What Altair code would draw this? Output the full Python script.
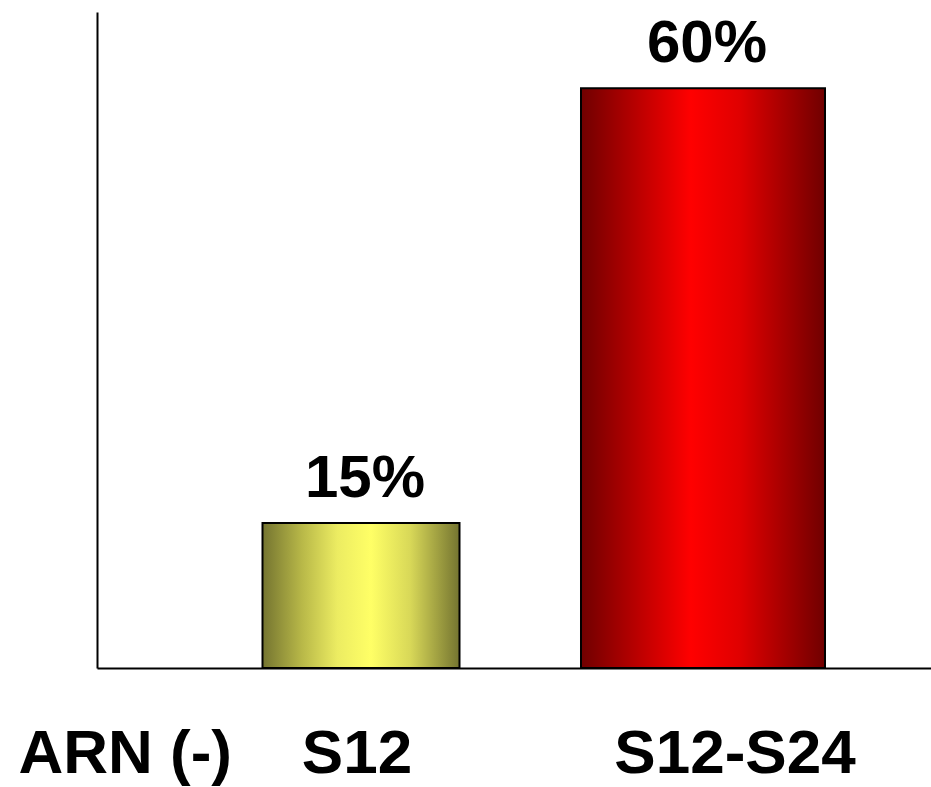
import altair as alt
import pandas as pd

categories = ["S12", "S12-S24"]
values = [15, 60]
x_title = "ARN (-)"

df = pd.DataFrame({"cat": categories, "val": values})

yellow = alt.Gradient(
    gradient="linear", x1=0, x2=1, y1=0, y2=0,
    stops=[
        alt.GradientStop(color="#747430", offset=0),
        alt.GradientStop(color="#b8b848", offset=0.2),
        alt.GradientStop(color="#ecec62", offset=0.38),
        alt.GradientStop(color="#ffff66", offset=0.55),
        alt.GradientStop(color="#d8d858", offset=0.75),
        alt.GradientStop(color="#747430", offset=1),
    ],
)
red = alt.Gradient(
    gradient="linear", x1=0, x2=1, y1=0, y2=0,
    stops=[
        alt.GradientStop(color="#700000", offset=0),
        alt.GradientStop(color="#c00000", offset=0.25),
        alt.GradientStop(color="#ff0000", offset=0.45),
        alt.GradientStop(color="#e00000", offset=0.65),
        alt.GradientStop(color="#700000", offset=1),
    ],
)

FONT = "Liberation Sans"

base = alt.Chart(df).encode(
    x=alt.X(
        "cat:N",
        sort=categories,
        scale=alt.Scale(paddingInner=0, paddingOuter=0.2193, align=0.62),
        axis=alt.Axis(
            title=x_title,
            titleFont=FONT, titleFontSize=62, titleFontWeight="bold", titleColor="black",
            titleX=-79, titleY=104, titleAlign="left", titleBaseline="alphabetic",
            titleAnchor="start",
            labelFont=FONT, labelFontSize=62, labelFontWeight="bold", labelColor="black",
            labelAngle=0, labelBaseline="alphabetic", labelPadding=104, labelLimit=0,
            labelOffset={"condition": {"test": "datum.value == 'S12-S24'", "value": 32}, "value": -4},
            ticks=False, domainColor="black", domainWidth=2, grid=False,
        ),
    ),
    y=alt.Y(
        "val:Q",
        scale=alt.Scale(domain=[0, 67.9]),
        axis=alt.Axis(
            title=None, labels=False, ticks=False, grid=False,
            domainColor="black", domainWidth=2,
        ),
    ),
)

bar_y = base.transform_filter(alt.datum.cat == "S12").mark_bar(
    color=yellow, stroke="black", strokeWidth=2, width=197
)
bar_r = base.transform_filter(alt.datum.cat == "S12-S24").mark_bar(
    color=red, stroke="black", strokeWidth=2, width=244
)
labels = base.transform_calculate(lbl="datum.val + '%'").mark_text(
    font=FONT, fontSize=60, fontWeight="bold", color="black",
    baseline="alphabetic", dy=-26, dx=4,
).encode(text="lbl:N")

chart = (
    alt.layer(bar_y, bar_r, labels)
    .properties(
        width=834, height=656,
        autosize=alt.AutoSizeParams(type="none"),
        padding={"left": 97, "top": 12, "right": 0, "bottom": 119},
        background="white",
    )
    .configure_view(stroke=None)
)

chart.save("out.html", embed_options={"renderer": "svg", "actions": False})
